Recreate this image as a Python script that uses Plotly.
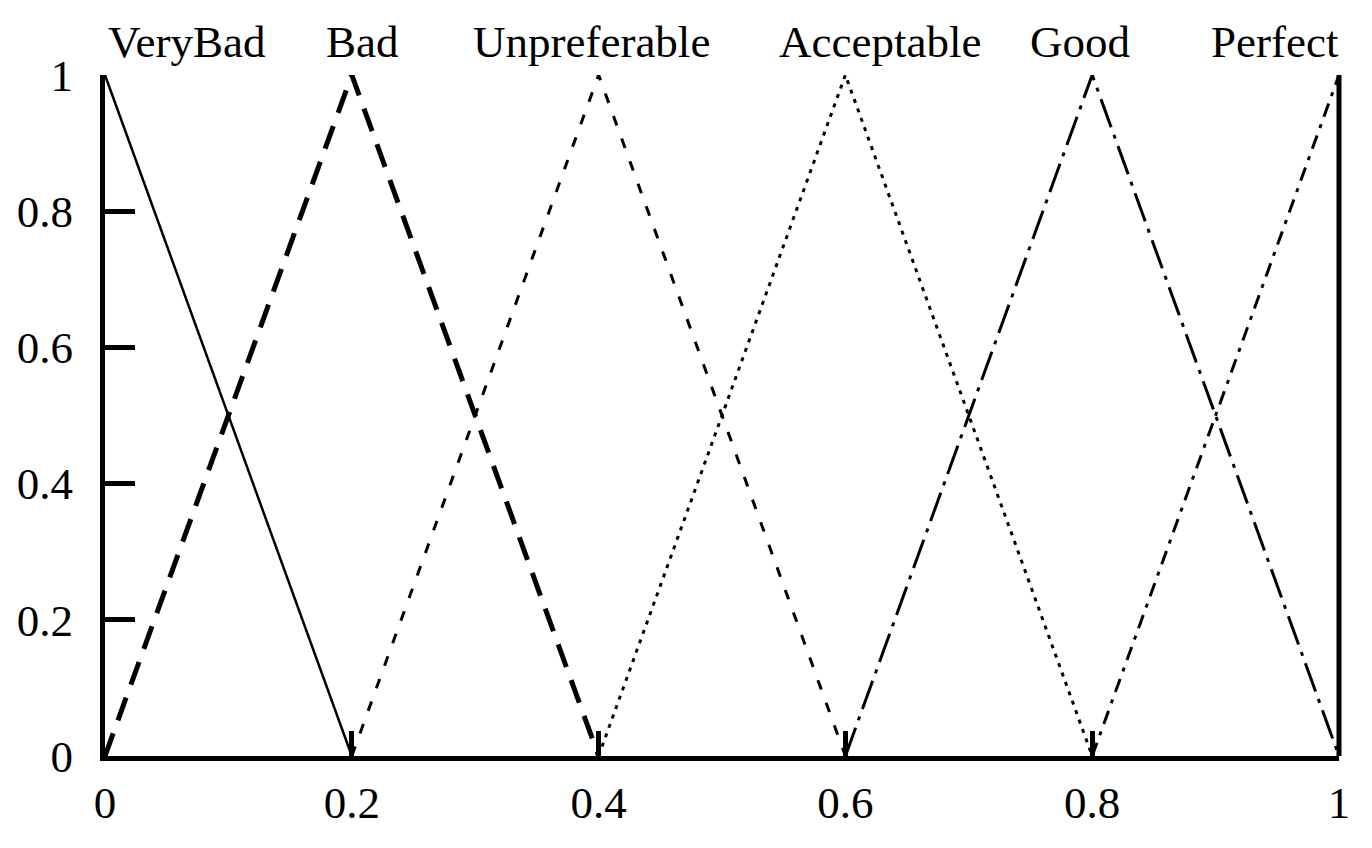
import plotly.graph_objects as go

names = ["VeryBad", "Bad", "Unpreferable", "Acceptable", "Good", "Perfect"]
xs = [
    [0.0, 0.2],
    [0.0, 0.2, 0.4],
    [0.2, 0.4, 0.6],
    [0.4, 0.6, 0.8],
    [0.6, 0.8, 1.0],
    [0.8, 1.0],
]
ys = [
    [1, 0],
    [0, 1, 0],
    [0, 1, 0],
    [0, 1, 0],
    [0, 1, 0],
    [0, 1],
]
label_x = [0.066, 0.209, 0.394, 0.628, 0.790, 0.948]
x_ticks = [0, 0.2, 0.4, 0.6, 0.8, 1]
x_tick_text = ["0", "0.2", "0.4", "0.6", "0.8", "1"]
y_ticks = [0, 0.2, 0.4, 0.6, 0.8, 1]
y_tick_text = ["0", "0.2", "0.4", "0.6", "0.8", "1"]

styles = [
    dict(width=2.5, dash="solid"),
    dict(width=5, dash="24px,14px"),
    dict(width=3, dash="10px,14px"),
    dict(width=3, dash="4px,6px"),
    dict(width=3, dash="30px,8px,4px,8px"),
    dict(width=3, dash="14px,8px,4px,8px"),
]

FONT = "Liberation Serif, Times New Roman, serif"
FS = 45

fig = go.Figure()
for n, x, y, s in zip(names, xs, ys, styles):
    fig.add_trace(go.Scatter(x=x, y=y, mode="lines", name=n,
                             line=dict(color="black", width=s["width"], dash=s["dash"]),
                             showlegend=False))

for n, lx in zip(names, label_x):
    fig.add_annotation(x=lx, y=1, xref="x", yref="paper", text=n, showarrow=False,
                       xanchor="center", yanchor="bottom", yshift=6,
                       font=dict(family=FONT, size=FS, color="black"))

fig.add_shape(type="line", xref="paper", yref="paper", x0=1, x1=1, y0=0, y1=1,
              line=dict(color="black", width=5))

fig.update_xaxes(range=[0, 1], tickvals=x_ticks, ticktext=x_tick_text, automargin=False,
                 showgrid=False, zeroline=False, showline=True, linecolor="black",
                 linewidth=5, ticks="inside", ticklen=25, tickwidth=5, tickcolor="black",
                 ticklabelstandoff=3,
                 tickfont=dict(family=FONT, size=FS, color="black"))
fig.update_yaxes(range=[0, 1], tickvals=y_ticks, ticktext=y_tick_text, automargin=False,
                 showgrid=False, zeroline=False, showline=True, linecolor="black",
                 linewidth=5, ticks="inside", ticklen=30, tickwidth=5, tickcolor="black",
                 ticklabelstandoff=18,
                 tickfont=dict(family=FONT, size=FS, color="black"))

fig.update_layout(width=1372, height=848, margin=dict(l=97, r=41, t=67, b=100),
                  plot_bgcolor="white", paper_bgcolor="white")

fig.write_html("out.html")
